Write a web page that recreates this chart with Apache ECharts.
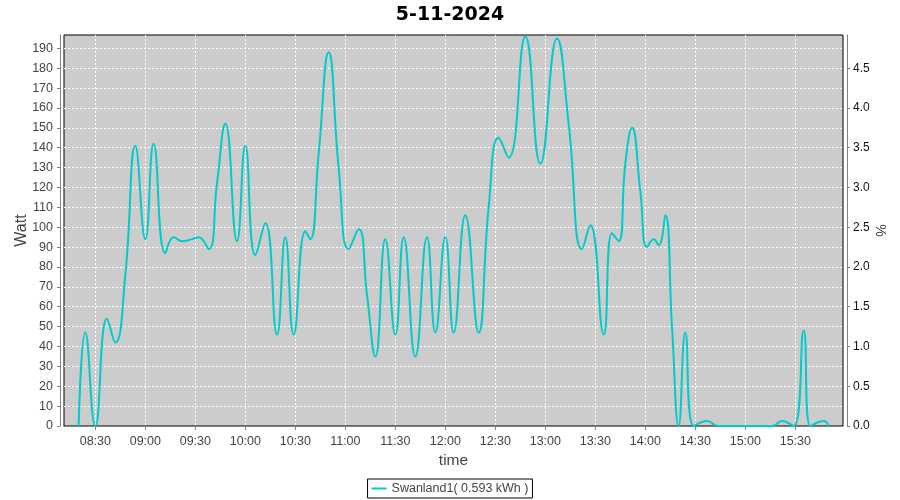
<!DOCTYPE html>
<html>
<head>
<meta charset="utf-8">
<script src="https://cdn.jsdelivr.net/npm/echarts@6/dist/echarts.min.js"></script>
<style>html,body{margin:0;padding:0;background:#fff}#c{width:900px;height:500px}</style>
</head>
<body>
<div id="c"></div>
<script>
const chartTitle = '5-11-2024';
const seriesName = 'Swanland1( 0.593 kWh )';
const times = ['08:20','08:24','08:30','08:37','08:42','08:48','08:54','09:00','09:05','09:12','09:17','09:22','09:28','09:32','09:38','09:43','09:48','09:55','10:00','10:06','10:12','10:19','10:24','10:29','10:36','10:39','10:44','10:50','10:56','11:02','11:08','11:13','11:18','11:24','11:30','11:35','11:42','11:49','11:54','12:00','12:05','12:12','12:20','12:26','12:32','12:38','12:48','12:57','13:07','13:14','13:22','13:27','13:35','13:40','13:44','13:48','13:52','13:57','14:01','14:05','14:08','14:12','14:16','14:20','14:24','14:29','14:37','14:44','15:16','15:22','15:29','15:35','15:39','15:47','15:50'];
const watts = [0,47,0,54,42,76,141,94,142,87,95,93,94,95,89,122,152,93,141,86,102,46,95,46,98,94,137,188,130,89,99,66,35,94,46,95,35,95,47,95,47,106,47,110,145,135,196,132,195,152,89,101,46,97,93,132,150,118,90,94,91,106,50,0,47,0,2.5,0,0,2.5,0,48,0,2.5,0];
const timeTickLabels = ['08:30','09:00','09:30','10:00','10:30','11:00','11:30','12:00','12:30','13:00','13:30','14:00','14:30','15:00','15:30'];
const wattTickLabels = [0,10,20,30,40,50,60,70,80,90,100,110,120,130,140,150,160,170,180,190];
const pctTickLabels = [0,0.5,1,1.5,2,2.5,3,3.5,4,4.5];

const toMin = s => { const p = s.split(':'); return (+p[0]) * 60 + (+p[1]); };
const fmt = v => { const h = Math.floor(v / 60), m = Math.round(v - h * 60); return String(h).padStart(2,'0') + ':' + String(m).padStart(2,'0'); };
const data = times.map((t, i) => [toMin(t), watts[i]]);
const xTicks = timeTickLabels.map(toMin);
const yMax = 196.7;
const FONT = 'Liberation Sans';
const grey = '#808080';

const chart = echarts.init(document.getElementById('c'), null, {renderer: 'canvas'});
chart.setOption({
  animation: false,
  backgroundColor: '#fff',
  title: {
    text: chartTitle, left: 'center', top: 1,
    textStyle: {fontFamily: 'DejaVu Sans', fontWeight: 'bold', fontSize: 19, color: '#000'}
  },
  legend: {
    data: [seriesName], left: 'center', bottom: 2,
    borderColor: '#000', borderWidth: 1, padding: [3, 4, 3, 4],
    icon: 'rect', itemWidth: 15, itemHeight: 2,
    textStyle: {fontFamily: FONT, fontSize: 12.5, color: '#444'}
  },
  grid: {
    left: 64, top: 35, right: 57, bottom: 74, show: true,
    outerBoundsMode: 'none', containLabel: false,
    backgroundColor: '#CCCCCC', borderColor: '#000', borderWidth: 1
  },
  xAxis: {
    type: 'value', min: 491.2, max: 958.6, offset: 4,
    name: 'time', nameLocation: 'middle', nameGap: 22,
    nameTextStyle: {fontFamily: FONT, fontSize: 15.5, color: '#444'},
    axisLine: {show: true, lineStyle: {color: grey}},
    axisTick: {show: true, length: 4, customValues: xTicks, lineStyle: {color: grey}},
    axisLabel: {customValues: xTicks, formatter: v => fmt(v), fontFamily: FONT, fontSize: 12.5, color: '#444', margin: 5},
    splitLine: {show: true, lineStyle: {color: '#fff', type: [2, 2], width: 1}}
  },
  yAxis: [{
    type: 'value', min: 0, max: yMax, position: 'left', offset: 4,
    name: 'Watt', nameLocation: 'middle', nameRotate: 90, nameGap: 30, nameMoveOverlap: false,
    nameTextStyle: {fontFamily: FONT, fontSize: 16, color: '#444'},
    axisLine: {show: true, lineStyle: {color: grey}},
    axisTick: {show: true, length: 3, customValues: wattTickLabels, lineStyle: {color: grey}},
    axisLabel: {customValues: wattTickLabels, fontFamily: FONT, fontSize: 12.5, color: '#444', margin: 7},
    splitLine: {show: true, lineStyle: {color: '#fff', type: [2, 2], width: 1}}
  }, {
    type: 'value', min: 0, max: yMax / 40, position: 'right', offset: 4,
    name: '%', nameLocation: 'middle', nameRotate: -90, nameGap: 26, nameMoveOverlap: false,
    nameTextStyle: {fontFamily: FONT, fontSize: 14, color: '#444'},
    axisLine: {show: true, lineStyle: {color: grey}},
    axisTick: {show: true, length: 3, customValues: pctTickLabels, lineStyle: {color: grey}},
    axisLabel: {customValues: pctTickLabels, formatter: v => v.toFixed(1), fontFamily: FONT, fontSize: 12, color: '#111', margin: 6},
    splitLine: {show: false}
  }],
  series: [{
    name: seriesName, type: 'line', data: data, yAxisIndex: 0,
    smooth: 0.5, showSymbol: false, symbol: 'none', clip: true,
    lineStyle: {color: '#00CCCC', width: 2}, itemStyle: {color: '#00CCCC'}
  }]
});
</script>
</body>
</html>
